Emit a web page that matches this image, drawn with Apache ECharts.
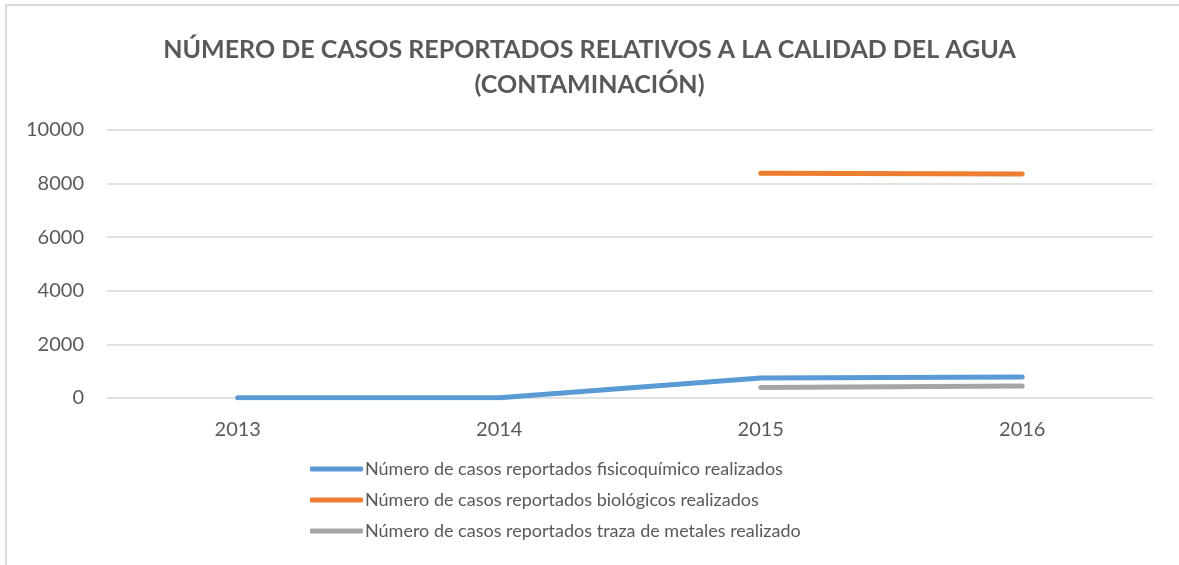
<!DOCTYPE html>
<html>
<head>
<meta charset="utf-8">
<script src="https://cdn.jsdelivr.net/npm/echarts@6/dist/echarts.min.js"></script>
<style>
html,body{margin:0;padding:0;background:#fff;}
#chart{width:1179px;height:565px;}
</style>
</head>
<body>
<div id="chart"></div>
<script>
var years=['2013','2014','2015','2016'];
var fisico=[5,5,745,783];
var biologico=[null,null,8386,8360];
var metales=[null,null,395,447];
var seriesNames=[
    'Número de casos reportados fisicoquímico realizados',
    'Número de casos reportados biológicos realizados',
    'Número de casos reportados traza de metales realizado'
];
var yTicks={min:0,max:10000,interval:2000};

var font='Lato, "Open Sans", sans-serif';
var chart=echarts.init(document.getElementById('chart'));

function lineSeries(name,data,color){
    return {
        name:name,
        type:'line',
        data:data,
        symbol:'none',
        connectNulls:false,
        lineStyle:{width:5,color:color,cap:'round',join:'round'},
        itemStyle:{color:color}
    };
}

var option={
    backgroundColor:'#fff',
    animation:false,
    title:{
        text:'NÚMERO DE CASOS REPORTADOS RELATIVOS A LA CALIDAD DEL AGUA\n(CONTAMINACIÓN)',
        left:'center',
        top:27,
        textStyle:{
            fontFamily:font,
            fontSize:25,
            fontWeight:'bold',
            color:'#595959',
            lineHeight:35,
            align:'center'
        }
    },
    grid:{left:107,right:26,top:130,bottom:167},
    legend:{
        orient:'vertical',
        left:305,
        top:455,
        itemWidth:53,
        itemHeight:5,
        itemGap:13,
        icon:'roundRect',
        textStyle:{fontFamily:font,fontSize:18,color:'#595959',padding:[0,0,0,-3]},
        data:seriesNames
    },
    xAxis:{
        type:'category',
        data:years,
        boundaryGap:true,
        axisLine:{show:false},
        axisTick:{show:false},
        axisLabel:{fontFamily:font,fontSize:20,color:'#595959',margin:22}
    },
    yAxis:{
        type:'value',
        min:yTicks.min,
        max:yTicks.max,
        interval:yTicks.interval,
        axisLine:{show:false},
        axisTick:{show:false},
        axisLabel:{fontFamily:font,fontSize:20,color:'#595959',margin:23,formatter:function(v){return String(v);}},
        splitLine:{lineStyle:{color:'#d9d9d9',width:1.5}}
    },
    graphic:[{
        type:'polyline',
        shape:{points:[[6,565],[6,5],[1179,5]]},
        style:{stroke:'#d9d9d9',lineWidth:2,fill:null},
        silent:true
    }],
    series:[
        lineSeries(seriesNames[0],fisico,'#5b9bd5'),
        lineSeries(seriesNames[1],biologico,'#ed7d31'),
        lineSeries(seriesNames[2],metales,'#a5a5a5')
    ]
};
chart.setOption(option);
</script>
</body>
</html>
